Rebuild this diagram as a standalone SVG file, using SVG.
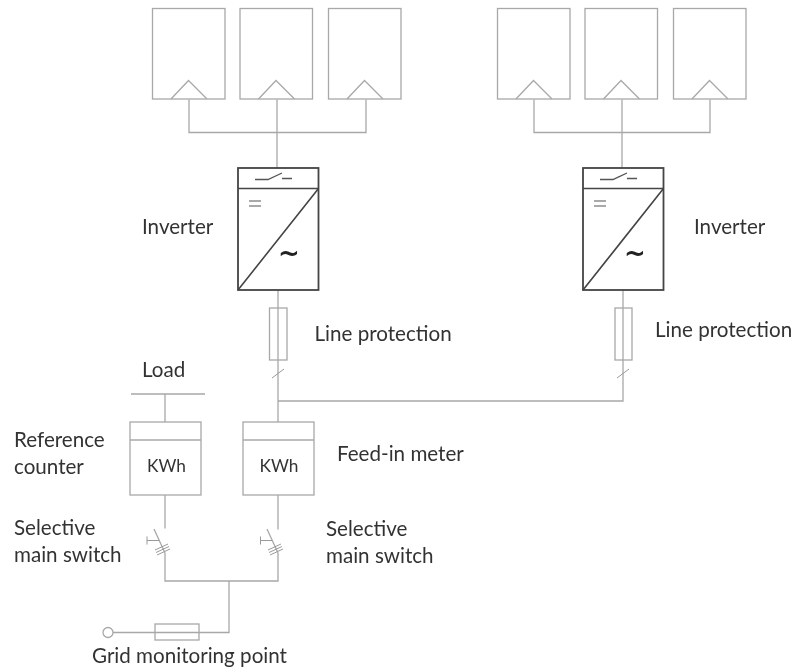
<svg xmlns="http://www.w3.org/2000/svg" width="792" height="670" viewBox="0 0 792 670">
<style>
text{font-family:"Lato","Liberation Sans",sans-serif;font-size:20.6px;fill:#333}
.kwh{font-size:17.3px}
.sym{font-family:"DejaVu Sans",sans-serif;font-size:26px;font-weight:bold;fill:#222;text-anchor:middle}
.g{fill:none;stroke:#a8a8a8;stroke-width:1.3}
.b{fill:#fff;stroke:#a8a8a8;stroke-width:1.3}
.t{fill:none;stroke:#999;stroke-width:1}
.d{fill:none;stroke:#444;stroke-width:1.6}
</style>
<defs>
<filter id="soft" x="0" y="0" width="100%" height="100%" filterUnits="userSpaceOnUse"><feGaussianBlur stdDeviation="0.35"/></filter>
<g id="panel"><rect class="g" x="0" y="0" width="72.500" height="90.500"/><path class="g" d="M18.500 90.500L36 72L54.500 90.500"/></g>
<g id="inv"><rect x="0" y="0" width="80.500" height="122" fill="#fff" stroke="#444" stroke-width="1.800"/><path class="d" d="M0 20.500H80.500M0 122L80.500 20.500"/><path d="M17 11.500H30L44 5M44 10.500H54" fill="none" stroke="#555" stroke-width="1.300"/><path d="M11 33H23M11 38H23" fill="none" stroke="#555" stroke-width="1.100"/></g>
<g id="meter"><rect class="g" x="0" y="0" width="71" height="73"/><path class="g" d="M0 18H71"/></g>
</defs>
<g filter="url(#soft)">
<g id="connectors">
<path class="g" d="M189 99.500V132.500H366V99.500M277 99.500V168M534 99.500V132.500H710V99.500M622 99.500V168"/>
<path class="g" d="M278 290V422M623 290V401H278"/>
<path class="t" d="M272 378L284 369M617 378L629 369"/>
<path class="g" d="M165 394V422M131 394H205"/>
<path class="g" d="M165 495V528.500M278 495V529.500M165 553V581H278V553M229 581V632.500H113"/>
</g>
<g id="pv-1"><use href="#panel" x="152.500" y="8.500"/></g>
<g id="pv-2"><use href="#panel" x="240" y="8.500"/></g>
<g id="pv-3"><use href="#panel" x="328.500" y="8.500"/></g>
<g id="pv-4"><use href="#panel" x="497.500" y="8.500"/></g>
<g id="pv-5"><use href="#panel" x="585" y="8.500"/></g>
<g id="pv-6"><use href="#panel" x="673.500" y="8.500"/></g>
<g id="inverter-1"><use href="#inv" x="238" y="168"/><text class="sym" x="289" y="262">~</text><text x="142" y="234">Inverter</text></g>
<g id="inverter-2"><use href="#inv" x="583" y="168"/><text class="sym" x="635" y="262">~</text><text x="694" y="233.500">Inverter</text></g>
<g id="fuse-1"><rect class="g" x="269.500" y="308" width="17.500" height="52"/><text x="314.500" y="341">Line protection</text></g>
<g id="fuse-2"><rect class="g" x="615" y="308" width="17" height="52"/><text x="655" y="337">Line protection</text></g>
<g id="load"><text x="142" y="377">Load</text></g>
<g id="reference-counter"><use href="#meter" x="130" y="422"/><text class="kwh" x="147" y="472">KWh</text><text x="14" y="447">Reference</text><text x="14" y="474">counter</text></g>
<g id="feed-in-meter"><use href="#meter" x="243" y="422"/><text class="kwh" x="259.500" y="472">KWh</text><text x="337" y="461">Feed-in meter</text></g>
<g id="switch-1"><path class="g" d="M154 529L165 553"/><path class="t" d="M147 540.500H159M147 536.500V544.500M155 550L168 544M156 552.500L169 546.500M157 555L170 549"/><text x="14" y="535">Selective</text><text x="14" y="561.500">main switch</text></g>
<g id="switch-2"><path class="g" d="M267 529L278 553"/><path class="t" d="M260.500 540.500H272M260.500 536.500V544.500M268 550L281 544M269 552.500L282 546.500M270 555L283 549"/><text x="326" y="536">Selective</text><text x="326" y="563">main switch</text></g>
<g id="grid-point"><circle class="b" cx="108" cy="632.500" r="5"/><rect class="g" x="155" y="624" width="44" height="16"/><text x="92" y="663">Grid monitoring point</text></g>
</g>
</svg>
